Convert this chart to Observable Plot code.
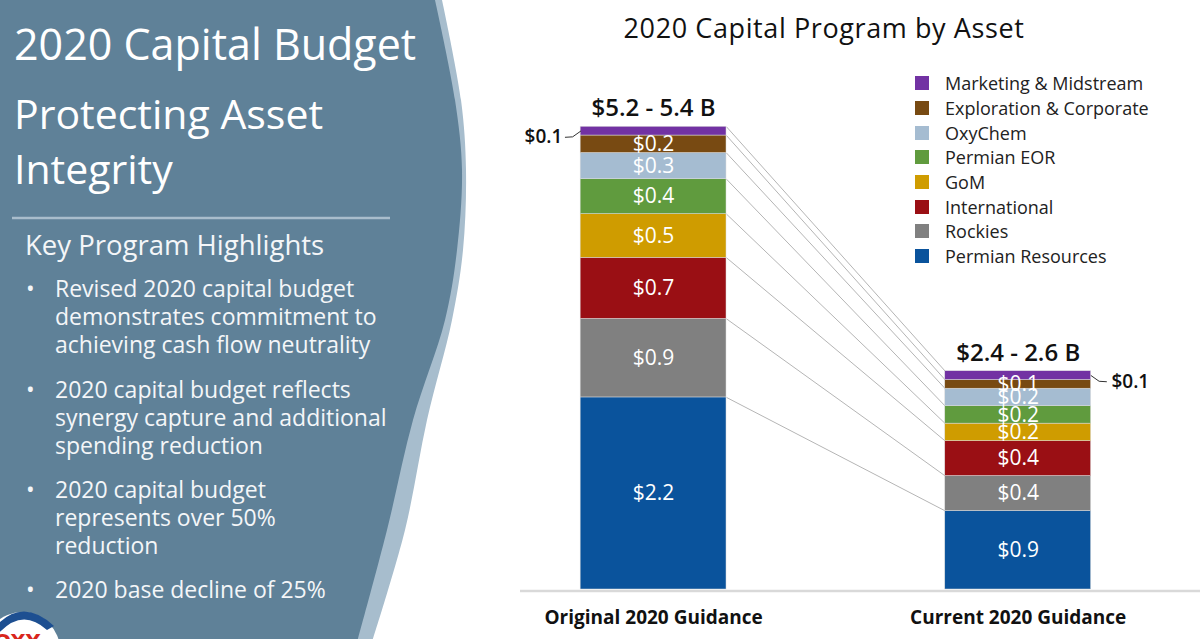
<!DOCTYPE html>
<html>
<head>
<meta charset="utf-8">
<script src="https://cdn.jsdelivr.net/npm/d3@7"></script>
<script src="https://cdn.jsdelivr.net/npm/@observablehq/plot@0.6"></script>
<style>
  body { margin: 0; background: #fff; }
  #slide { position: relative; width: 1200px; height: 639px; overflow: hidden; font-family: "Open Sans", sans-serif; }
  #panel { position: absolute; left: 0; top: 0; }
  .pt { position: absolute; color: #fff; white-space: nowrap; }
  .bul { position: absolute; left: 55px; color: #f4f6f8; font-size: 23px; line-height: 28px; white-space: nowrap; }
  .bul::before { content: "\2022"; position: absolute; left: -29px; }
  #chart { position: absolute; left: 520px; top: 0; }
  #title { position: absolute; left: 524px; width: 600px; top: 9px; text-align: center; font-size: 27px; line-height: 38px; letter-spacing: 0.6px; color: #111; }
  #legend { position: absolute; left: 915px; top: 71px; }
  .lg { display: flex; align-items: center; height: 24.7px; font-size: 18px; color: #222; white-space: nowrap; }
  .sw { width: 14px; height: 14px; margin-right: 16px; flex: none; }
</style>
</head>
<body>
<div id="slide">
  <svg id="panel" width="470" height="639"></svg>
  <div class="pt" style="left:14px;top:19px;font-size:43px;line-height:50px;">2020 Capital Budget</div>
  <div class="pt" style="left:14px;top:86px;font-size:41px;line-height:55px;">Protecting Asset<br>Integrity</div>
  <div class="pt" style="left:25px;top:228px;font-size:27.5px;line-height:34px;color:#f4f6f8;">Key Program Highlights</div>
  <div class="bul" style="top:274px;">Revised 2020 capital budget<br>demonstrates commitment to<br>achieving cash flow neutrality</div>
  <div class="bul" style="top:375px;">2020 capital budget reflects<br>synergy capture and additional<br>spending reduction</div>
  <div class="bul" style="top:475px;">2020 capital budget<br>represents over 50%<br>reduction</div>
  <div class="bul" style="top:575px;">2020 base decline of 25%</div>
  <div id="chart"></div>
  <div id="title">2020 Capital Program by Asset</div>
  <div id="legend"></div>
</div>
<script>
// ---------- data ----------
const guidance = ["Original 2020 Guidance", "Current 2020 Guidance"];
const assets = ["Permian Resources", "Rockies", "International", "GoM", "Permian EOR", "OxyChem", "Exploration & Corporate", "Marketing & Midstream"];
const assetColors = ["#0a539c", "#808080", "#9a0f14", "#cf9c00", "#609b3e", "#a5bcd1", "#784a12", "#7232a3"];
const originalValues = [2.2, 0.9, 0.7, 0.5, 0.4, 0.3, 0.2, 0.1];
const currentValues = [0.9, 0.4, 0.4, 0.2, 0.2, 0.2, 0.1, 0.1];
const totalLabels = ["$5.2 - 5.4 B", "$2.4 - 2.6 B"];
const outsideAsset = "Marketing & Midstream";

// ---------- left panel decoration ----------
(function drawPanel() {
  const svg = d3.select("#panel");
  const curve = d3.line().curve(d3.curveCatmullRom);
  const band = [[442,0],[461,100],[466,170],[463,250],[452,320],[427,420],[405,530],[373,639]];
  const edge = [[435,0],[455,100],[462,170],[457,250],[445,320],[413,420],[387,530],[358,639]];
  svg.append("path").attr("d", curve(band) + "L0,639L0,0Z").attr("fill", "#a7bdcd");
  svg.append("path").attr("d", curve(edge) + "L0,639L0,0Z").attr("fill", "#5f8198");
  svg.append("line").attr("x1", 12).attr("x2", 390).attr("y1", 218).attr("y2", 218)
    .attr("stroke", "#a9bdcc").attr("stroke-width", 2.5);
  // logo (partial, bottom-left)
  svg.append("circle").attr("cx", 22).attr("cy", 650).attr("r", 38).attr("fill", "#fff");
  svg.append("path").attr("d", "M-6,628 Q22,596 54,626 L47,630 Q22,607 -2,634 Z").attr("fill", "#1d4f91");
  svg.append("text").attr("x", -6).attr("y", 648).attr("fill", "#d9261c")
    .attr("font-family", "DejaVu Sans").attr("font-weight", "bold").attr("font-size", 20).text("OXY");
})();

// ---------- chart ----------
const hw = 0.2; // half bar width in x units
const valuesBy = [originalValues, currentValues];
const fmt = v => "$" + v.toFixed(1);
const rows = guidance.flatMap((g, i) => assets.map((a, j) => ({guidance: g, i, asset: a, value: valuesBy[i][j]})));
const cum = valuesBy.map(v => Array.from(d3.cumsum(v)));
const connectors = assets.map((a, j) => ({asset: a, top0: cum[0][j], top1: cum[1][j]}));
const totals = guidance.map((g, i) => ({i, total: d3.sum(valuesBy[i]), label: totalLabels[i]}));
const cats = guidance.map((g, i) => ({i, g}));

// leader lines for the small top segment labels
const leaders = [];
const outside = [];
guidance.forEach((g, i) => {
  const side = i === 0 ? -1 : 1;
  const j = assets.indexOf(outsideAsset);
  const v = valuesBy[i][j];
  const ax = i + side * hw, ay = cum[i][j] - v / 2;
  leaders.push({g, x: ax, y: ay}, {g, x: ax + side * 0.022, y: ay - 0.065}, {g, x: ax + side * 0.042, y: ay - 0.07});
  outside.push({i, side, x: ax + side * 0.042, y: ay - 0.07, label: fmt(v)});
});

const chart = Plot.plot({
  width: 680,
  height: 639,
  marginLeft: 0, marginRight: 0, marginTop: 0, marginBottom: 0,
  style: {background: "transparent", fontFamily: "'Open Sans', sans-serif", overflow: "visible"},
  x: {domain: [-0.365, 1.5], range: [0, 680], axis: null},
  y: {domain: [0, 6], range: [589, 65.2], axis: null},
  color: {domain: assets, range: assetColors},
  marks: [
    Plot.ruleY([0], {stroke: "#d9d9d9", strokeWidth: 2.5, dy: 1.5}),
    Plot.link(connectors, {x1: () => hw, x2: () => 1 - hw, y1: "top0", y2: "top1", stroke: "#b5b5b5", strokeWidth: 1}),
    Plot.rectY(rows, {x1: d => d.i - hw, x2: d => d.i + hw, y: "value", fill: "asset", stroke: "#dcdcdc", strokeWidth: 0.5}),
    Plot.text(rows, Plot.stackY({x: "i", y: "value", text: d => d.asset === outsideAsset ? null : fmt(d.value), fill: "white", fontSize: 21, fontWeight: 500})),
    Plot.text(totals, {x: "i", y: "total", text: "label", dy: -18, fontSize: 24, fontWeight: 600, fill: "#111"}),
    Plot.text(cats, {x: "i", y: () => 0, text: "g", dy: 28, fontSize: 19, fontWeight: "bold", fill: "#111"}),
    Plot.line(leaders, {x: "x", y: "y", z: "g", stroke: "#333", strokeWidth: 1}),
    Plot.text(outside.filter(d => d.side < 0), {x: "x", y: "y", text: "label", dx: -3, textAnchor: "end", fontSize: 19, fontWeight: 600, fill: "#111"}),
    Plot.text(outside.filter(d => d.side > 0), {x: "x", y: "y", text: "label", dx: 5, textAnchor: "start", fontSize: 19, fontWeight: 600, fill: "#111"})
  ]
});
document.getElementById("chart").appendChild(chart);

// ---------- legend ----------
const legend = d3.select("#legend");
assets.slice().reverse().forEach(a => {
  const row = legend.append("div").attr("class", "lg");
  row.append("div").attr("class", "sw").style("background", assetColors[assets.indexOf(a)]);
  row.append("span").text(a);
});
</script>
</body>
</html>
